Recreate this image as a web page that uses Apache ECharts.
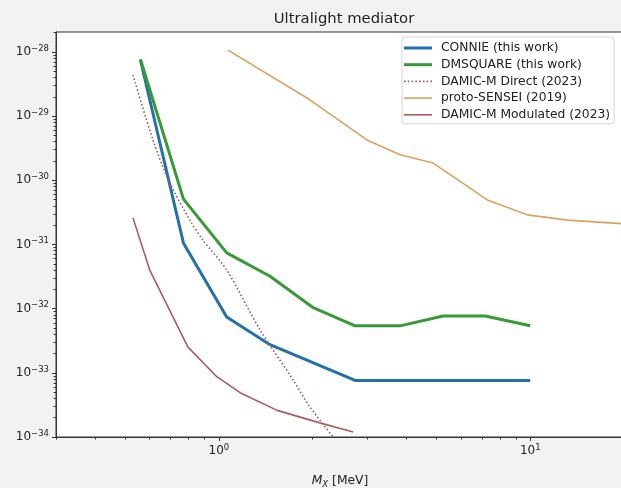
<!DOCTYPE html>
<html><head><meta charset="utf-8">
<script src="https://cdn.jsdelivr.net/npm/echarts@6/dist/echarts.min.js"></script>
<style>html,body{margin:0;padding:0;background:#f2f2f2}#c{width:621px;height:488px}</style>
</head><body><div id="c"></div>
<script>
// ---- data ----
const connieX = [0.56, 0.77, 1.06, 1.46, 2.74, 10];
const connieY = [7.5e-29, 1.05e-31, 7.4e-33, 2.75e-33, 7.6e-34, 7.6e-34];

const dmsX = [0.56, 0.77, 1.06, 1.46, 2.0, 2.74, 3.82, 5.25, 7.17, 10];
const dmsY = [7.7e-29, 5.1e-31, 7.4e-32, 3.2e-32, 1.05e-32, 5.4e-33, 5.4e-33, 7.7e-33, 7.7e-33, 5.4e-33];

const directX = [0.53, 0.614, 0.69, 0.807, 0.889, 1.06, 1.355, 1.73, 1.96, 2.33];
const directY = [4.4e-29, 4.3e-30, 1.0e-30, 2.4e-31, 1.17e-31, 4.0e-32, 4.7e-33, 7.8e-34, 2.95e-34, 1.0e-34];

const protoX = [1.07, 1.96, 2.99, 3.82, 4.88, 7.28, 9.78, 13.2, 20];
const protoY = [1.07e-28, 1.8e-29, 4.26e-30, 2.5e-30, 1.86e-30, 4.95e-31, 2.9e-31, 2.4e-31, 2.1e-31];

const modX = [0.53, 0.60, 0.795, 0.985, 1.17, 1.54, 2.11, 2.70];
const modY = [2.6e-31, 4.0e-32, 2.54e-33, 8.7e-34, 4.9e-34, 2.6e-34, 1.66e-34, 1.2e-34];

const seriesNames = ['CONNIE (this work)', 'DMSQUARE (this work)', 'DAMIC-M Direct (2023)', 'proto-SENSEI (2019)', 'DAMIC-M Modulated (2023)'];

const xMajorTicks = [1, 10];
const xMinorTicks = [0.3, 0.4, 0.5, 0.6, 0.7, 0.8, 0.9, 2, 3, 4, 5, 6, 7, 8, 9, 20];
// y ticks expressed in units of 1e-34 (tick-only helper axes)
const yMajorTicksScaled = [1, 10, 100, 1e3, 1e4, 1e5, 1e6];
const yMinorTicksScaled = [2, 3, 4, 5, 6, 7, 8, 9, 20, 30, 40, 50, 60, 70, 80, 90,
  200, 300, 400, 500, 600, 700, 800, 900, 2e3, 3e3, 4e3, 5e3, 6e3, 7e3, 8e3, 9e3,
  2e4, 3e4, 4e4, 5e4, 6e4, 7e4, 8e4, 9e4, 2e5, 3e5, 4e5, 5e5, 6e5, 7e5, 8e5, 9e5, 2e6];
const Y_UNIT_EXP = -34;

const X_MIN = 0.3, X_MAX = 20, Y_MIN = 1e-34, Y_MAX = 2.05e-28;

// ---- build ----
const FONT = 'DejaVu Sans';
const pair = (xs, ys) => xs.map((x, i) => [x, ys[i]]);
const expText = e => '{b|10}{s|' + (e < 0 ? '\u2212' : '') + Math.abs(e) + '}';
const expLabel = v => expText(Math.round(Math.log10(v)));
const expLabelScaled = v => expText(Math.round(Math.log10(v)) + Y_UNIT_EXP);
const labelRich = {
  b: { fontSize: 12, fontFamily: FONT, color: '#222', lineHeight: 16 },
  s: { fontSize: 8.5, fontFamily: FONT, color: '#222', verticalAlign: 'top', lineHeight: 9 }
};
const axisLineStyle = { color: '#333', width: 1 };

const dots = (() => { let p = 'path://'; for (let x = 0; x < 28; x += 3.8) p += 'M' + x + ',0h1.6v1.6h-1.6z'; return p; })();
const iconThick = 'path://M0,0h28v3h-28z';
const iconThin = 'path://M0,0h28v1.6h-28z';

const chart = echarts.init(document.getElementById('c'), null, { renderer: 'canvas' });
chart.setOption({
  backgroundColor: '#f2f2f2',
  animation: false,
  title: {
    text: 'Ultralight mediator', left: 339, top: 7, textAlign: 'center',
    textStyle: { fontFamily: FONT, fontSize: 14.8, fontWeight: 'normal', color: '#222' }
  },
  grid: {
    left: 56, top: 32, right: -3, bottom: 51, show: true, outerBoundsMode: 'none', containLabel: false,
    backgroundColor: '#ffffff', borderColor: '#333', borderWidth: 1
  },
  legend: {
    orient: 'vertical', left: 402, top: 37,
    padding: [5, 4, 3, 2], itemGap: 4.7, itemWidth: 28, itemHeight: 14, symbolKeepAspect: true,
    backgroundColor: '#ffffff', borderColor: '#d6d6d6', borderWidth: 1, borderRadius: 3,
    textStyle: { fontFamily: FONT, fontSize: 12.3, color: '#222', padding: [0, 0, 0, 4] },
    data: [
      { name: seriesNames[0], icon: iconThick },
      { name: seriesNames[1], icon: iconThick },
      { name: seriesNames[2], icon: dots },
      { name: seriesNames[3], icon: iconThin },
      { name: seriesNames[4], icon: iconThin }
    ]
  },
  xAxis: [
    {
      type: 'log', logBase: 10, min: X_MIN, max: X_MAX, position: 'bottom',
      axisLine: { show: true, lineStyle: axisLineStyle },
      axisTick: { show: true, length: 4, customValues: xMajorTicks, lineStyle: axisLineStyle },
      axisLabel: { customValues: xMajorTicks, margin: 6, formatter: expLabel, rich: labelRich },
      splitLine: { show: false }, minorTick: { show: false },
      name: '{i|M}{sub|X} [MeV]', nameLocation: 'middle', nameGap: 36,
      nameTextStyle: {
        fontFamily: FONT, fontSize: 12.3, color: '#222',
        rich: {
          i: { fontFamily: FONT, fontSize: 12.3, fontStyle: 'italic', color: '#222', lineHeight: 16 },
          sub: { fontFamily: FONT, fontSize: 8.6, fontStyle: 'italic', color: '#222', verticalAlign: 'bottom', lineHeight: 12 }
        }
      }
    },
    {
      type: 'log', logBase: 10, min: X_MIN, max: X_MAX, position: 'bottom',
      axisLine: { show: false },
      axisTick: { show: true, length: 2.5, customValues: xMinorTicks, lineStyle: axisLineStyle },
      axisLabel: { show: false }, splitLine: { show: false }
    }
  ],
  yAxis: [
    {
      // data axis for the series
      type: 'log', logBase: 10, min: Y_MIN, max: Y_MAX, position: 'left',
      axisLine: { show: true, lineStyle: axisLineStyle },
      axisTick: { show: false }, axisLabel: { show: false },
      splitLine: { show: false }, minorTick: { show: false }
    },
    {
      // same span in units of 1e-34: major ticks + labels
      type: 'log', logBase: 10, min: Y_MIN * 1e34, max: Y_MAX * 1e34, position: 'left',
      axisLine: { show: false },
      axisTick: { show: true, length: 4, customValues: yMajorTicksScaled, lineStyle: axisLineStyle },
      axisLabel: { customValues: yMajorTicksScaled, margin: 7, formatter: expLabelScaled, rich: labelRich },
      splitLine: { show: false }
    },
    {
      // same span in units of 1e-34: minor ticks
      type: 'log', logBase: 10, min: Y_MIN * 1e34, max: Y_MAX * 1e34, position: 'left',
      axisLine: { show: false },
      axisTick: { show: true, length: 2.5, customValues: yMinorTicksScaled, lineStyle: axisLineStyle },
      axisLabel: { show: false }, splitLine: { show: false }
    }
  ],
  series: [
    { name: seriesNames[0], type: 'line', data: pair(connieX, connieY), symbol: 'none', showSymbol: false,
      lineStyle: { color: '#2471aa', width: 3 }, itemStyle: { color: '#2471aa' }, z: 3 },
    { name: seriesNames[1], type: 'line', data: pair(dmsX, dmsY), symbol: 'none', showSymbol: false,
      lineStyle: { color: '#379a37', width: 3 }, itemStyle: { color: '#379a37' }, z: 4 },
    { name: seriesNames[2], type: 'line', data: pair(directX, directY), symbol: 'none', showSymbol: false, smooth: 0.3,
      lineStyle: { color: '#9d5a68', width: 1.6, type: [1.6, 2.2] }, itemStyle: { color: '#9d5a68' }, z: 5 },
    { name: seriesNames[3], type: 'line', data: pair(protoX, protoY), symbol: 'none', showSymbol: false,
      lineStyle: { color: '#dca25c', width: 1.6 }, itemStyle: { color: '#dca25c' }, z: 6 },
    { name: seriesNames[4], type: 'line', data: pair(modX, modY), symbol: 'none', showSymbol: false,
      lineStyle: { color: '#b05a5c', width: 1.6 }, itemStyle: { color: '#b05a5c' }, z: 7 }
  ]
});
</script>
</body></html>
